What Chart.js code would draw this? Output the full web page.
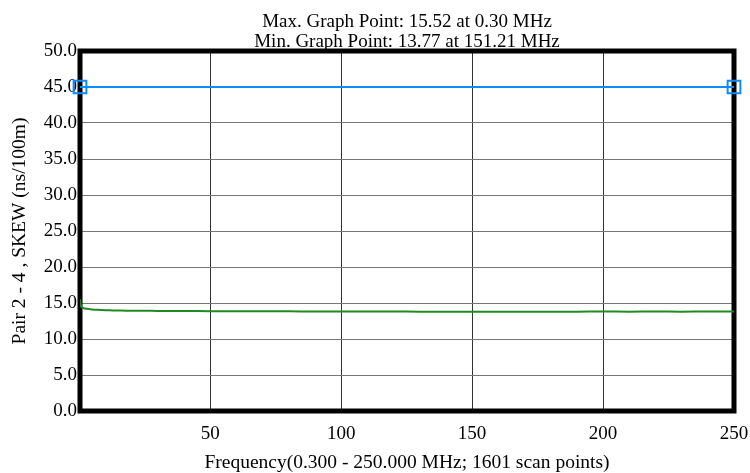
<!DOCTYPE html>
<html>
<head>
<meta charset="utf-8">
<script src="https://cdn.jsdelivr.net/npm/chart.js@4"></script>
<style>
	html, body { margin: 0; padding: 0; background: #fff; }
	#wrap { width: 750px; height: 473px; }
</style>
</head>
<body>
<div id="wrap"><canvas id="skew-grafica"></canvas></div>
<script>
// --- datos --- //
const frecuencias = [0.3, 0.6, 1, 1.5, 2, 3, 4, 5, 7, 10, 13, 16, 20, 25, 30, 40, 50, 60, 70, 80, 90, 100, 110, 120, 130, 140, 151.21, 160, 170, 180, 190, 200, 210, 220, 230, 240, 250];
const skew = [15.52, 14.6, 14.4, 14.3, 14.25, 14.2, 14.15, 14.1, 14.05, 14.0, 13.97, 13.95, 13.93, 13.92, 13.9, 13.88, 13.87, 13.86, 13.85, 13.84, 13.83, 13.83, 13.82, 13.81, 13.8, 13.79, 13.77, 13.79, 13.8, 13.79, 13.8, 13.81, 13.8, 13.81, 13.8, 13.81, 13.82];
const limiteX = [0.3, 250];
const limite = [45, 45];
const ticksX = [50, 100, 150, 200, 250];

const titulo = ['Max. Graph Point: 15.52 at 0.30 MHz', 'Min. Graph Point: 13.77 at 151.21 MHz'];
const tituloY = 'Pair 2 - 4 , SKEW (ns/100m)';
const tituloX = 'Frequency(0.300 - 250.000 MHz; 1601 scan points)';

(function () {
	const grafica = document.getElementById('skew-grafica');
	const fuente = 'Liberation Serif, Times New Roman, serif';

	// marco negro grueso y titulo centrado sobre el area de la grafica
	const marco = {
		id: 'marco',
		beforeDatasetsDraw(chart) {
			const a = chart.chartArea;
			const ctx = chart.ctx;
			ctx.save();
			ctx.strokeStyle = '#000';
			ctx.lineWidth = 5;
			ctx.strokeRect(a.left, a.top, a.right - a.left, a.bottom - a.top);
			ctx.restore();
		},
		afterDraw(chart) {
			const a = chart.chartArea;
			const ctx = chart.ctx;
			ctx.save();
			ctx.fillStyle = '#000';
			ctx.font = '19px ' + fuente;
			ctx.textAlign = 'center';
			ctx.textBaseline = 'alphabetic';
			titulo.forEach((t, i) => {
				ctx.fillText(t, (a.left + a.right) / 2, 27 + i * 20);
			});
			ctx.restore();
		},
	};

	new Chart(grafica, {
		type: 'line',
		data: {
			datasets: [
				{
					data: limiteX.map((x, i) => ({ x: x, y: limite[i] })),
					borderColor: '#0a8cff',
					borderWidth: 2,
					pointStyle: 'rect',
					pointRadius: 9,
					pointBorderWidth: 2,
					pointBorderColor: '#0a8cff',
					pointBackgroundColor: 'rgba(0,0,0,0)',
					clip: false,
				},
				{
					data: frecuencias.map((x, i) => ({ x: x, y: skew[i] })),
					borderColor: '#1f8a1f',
					borderWidth: 2,
					pointRadius: 0,
					tension: 0.2,
				},
			],
		},
		options: {
			responsive: true,
			maintainAspectRatio: false,
			animation: false,
			layout: { padding: { top: 51, right: 16, left: 0, bottom: 0 } },
			scales: {
				x: {
					type: 'linear',
					min: 0.3,
					max: 250,
					afterBuildTicks: (s) => { s.ticks = ticksX.map((v) => ({ value: v })); },
					afterFit: (s) => { s.height = 62; s.paddingRight = 16; s.paddingLeft = 0; },
					grid: { color: '#333', drawTicks: false },
					border: { display: false },
					ticks: { color: '#000', padding: 12, maxRotation: 0, font: { family: fuente, size: 19 } },
					title: { display: true, text: tituloX, color: '#000', padding: { top: 0, bottom: 0 }, font: { family: fuente, size: 19.5, lineHeight: 1 } },
				},
				y: {
					min: 0,
					max: 50,
					afterFit: (s) => { s.width = 80; },
					grid: { color: '#777', drawTicks: false },
					border: { display: false },
					ticks: { stepSize: 5, color: '#000', padding: 3, callback: (v) => v.toFixed(1), font: { family: fuente, size: 19 } },
					title: { display: true, text: tituloY, color: '#000', padding: { top: 8, bottom: 0 }, font: { family: fuente, size: 19.5 } },
				},
			},
			plugins: {
				legend: { display: false },
				tooltip: { enabled: false },
				title: { display: false },
			},
		},
		plugins: [marco],
	});
})();
</script>
</body>
</html>
